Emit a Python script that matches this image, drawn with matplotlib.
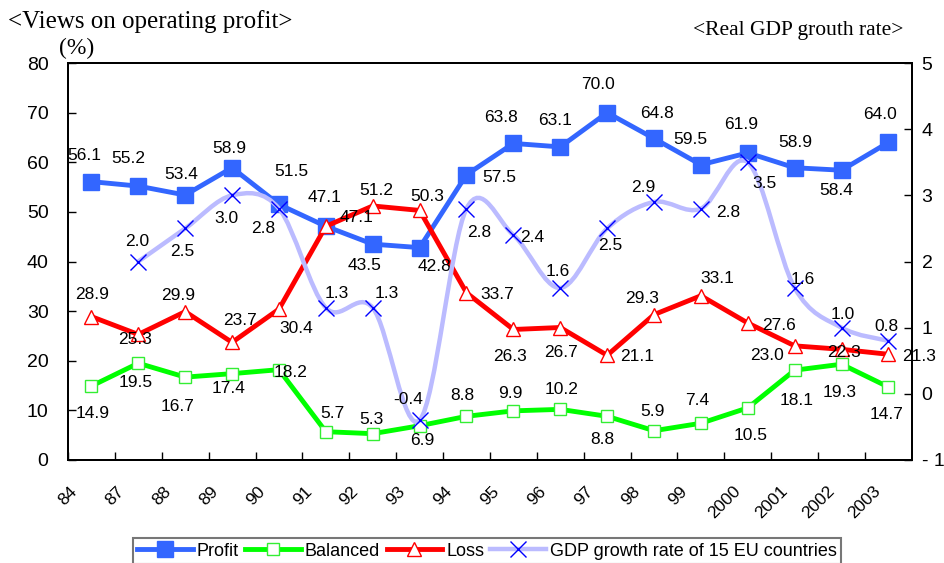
import matplotlib.pyplot as plt
from matplotlib.path import Path
from matplotlib.patches import PathPatch
from matplotlib.lines import Line2D

plt.rcParams['font.family'] = ['Liberation Sans', 'DejaVu Sans']

# --- data ---
years = ["84", "87", "88", "89", "90", "91", "92", "93", "94", "95", "96",
         "97", "98", "99", "2000", "2001", "2002", "2003"]
profit = [56.1, 55.2, 53.4, 58.9, 51.5, 47.1, 43.5, 42.8, 57.5, 63.8, 63.1,
          70.0, 64.8, 59.5, 61.9, 58.9, 58.4, 64.0]
balanced = [14.9, 19.5, 16.7, 17.4, 18.2, 5.7, 5.3, 6.9, 8.8, 9.9, 10.2,
            8.8, 5.9, 7.4, 10.5, 18.1, 19.3, 14.7]
loss = [28.9, 25.3, 29.9, 23.7, 30.4, 47.1, 51.2, 50.3, 33.7, 26.3, 26.7,
        21.1, 29.3, 33.1, 27.6, 23.0, 22.3, 21.3]
# GDP starts at 87
gdp_years = years[1:]
gdp = [2.0, 2.5, 3.0, 2.8, 1.3, 1.3, -0.4, 2.8, 2.4, 1.6, 2.5, 2.9, 2.8,
       3.5, 1.6, 1.0, 0.8]

# label offsets in pixels (dx, dy up), placed by hand like the original
profit_off = [(-7, 26), (-10, 28), (-4, 21), (-3, 19), (12, 33), (-1, 29),
              (-8, -21), (15, -19), (33, -3), (-12, 26), (-5, 26), (-9, 28),
              (3, 25), (-11, 25), (-7, 28), (1, 25), (-5, -20), (-8, 28)]
loss_off = [(1, 22), (-3, -5), (-7, 16), (8, 22), (17, -19), (31, 9),
            (4, 15), (8, 14), (31, -2), (-3, -27), (1, -25), (30, -1),
            (-12, 16), (16, 17), (31, -2), (-28, -10), (2, -3), (31, -2)]
bal_off = [(1, -27), (-3, -19), (-8, -29), (-4, -15), (12, -3), (7, 18),
           (-1, 14), (3, -15), (-4, 21), (-3, 17), (1, 20), (-5, -23),
           (-2, 19), (-4, 23), (3, -28), (2, -30), (-2, -28), (-2, -27)]
gdp_off = [(-1, 20), (-3, -23), (-6, -23), (-16, -20), (11, 14), (14, 14),
           (-11, 21), (13, -24), (19, -2), (-3, 16), (3, -17), (-11, 14),
           (27, -4), (17, -21), (8, 8), (1, 13), (-2, 14)]

c_profit = "#3366FF"
c_bal = "#00FF00"
c_loss = "#FF0000"
c_gdp = "#BBBBFF"
c_x = "#0000FF"

fig = plt.figure(figsize=(9.44, 5.63), dpi=100)
ax = fig.add_axes([0.072, 0.183, 0.894, 0.705])
ax2 = ax.twinx()

x = [i + 0.5 for i in range(len(years))]
xg = [i + 1.5 for i in range(len(gdp))]

ax.plot(x, profit, color=c_profit, lw=3.5, marker="s", ms=11.5,
        mfc=c_profit, mec=c_profit, zorder=3)
ax.plot(x, balanced, color=c_bal, lw=3.5, marker="s", ms=9,
        mfc="white", mec="#33EE33", mew=1, zorder=3)
ax.plot(x, loss, color=c_loss, lw=3.5, marker="^", ms=10,
        mfc="white", mec=c_loss, mew=1, zorder=4)

# smoothed GDP line (Bezier through the points, like a spreadsheet "smooth line")
verts = [(xg[0], gdp[0])]
codes = [Path.MOVETO]
n = len(gdp)
for i in range(n - 1):
    p0 = (xg[max(i - 1, 0)], gdp[max(i - 1, 0)])
    p1 = (xg[i], gdp[i])
    p2 = (xg[i + 1], gdp[i + 1])
    p3 = (xg[min(i + 2, n - 1)], gdp[min(i + 2, n - 1)])
    c1 = (p1[0] + (p2[0] - p0[0]) / 6, p1[1] + (p2[1] - p0[1]) / 6)
    c2 = (p2[0] - (p3[0] - p1[0]) / 6, p2[1] - (p3[1] - p1[1]) / 6)
    verts += [c1, c2, p2]
    codes += [Path.CURVE4] * 3
ax2.add_patch(PathPatch(Path(verts, codes), fc="none", ec=c_gdp, lw=3.2,
                        capstyle="round", zorder=2))
ax2.plot(xg, gdp, ls="none", marker="x", ms=11, mec=c_x, mew=1, zorder=3)

lab_kw = dict(textcoords="offset pixels", ha="center", va="center",
              fontsize=12.5, zorder=6)
for xi, v, (dx, dy) in zip(x, profit, profit_off):
    ax.annotate(f"{v:.1f}", (xi, v), xytext=(dx, dy), **lab_kw)
for xi, v, (dx, dy) in zip(x, loss, loss_off):
    ax.annotate(f"{v:.1f}", (xi, v), xytext=(dx, dy), **lab_kw)
for xi, v, (dx, dy) in zip(x, balanced, bal_off):
    ax.annotate(f"{v:.1f}", (xi, v), xytext=(dx, dy), **lab_kw)
for xi, v, (dx, dy) in zip(xg, gdp, gdp_off):
    ax2.annotate(f"{v:.1f}", (xi, v), xytext=(dx, dy), **lab_kw)

ax.set_xlim(0, len(years))
ax.set_ylim(0, 80)
ax2.set_ylim(-1, 5)
ax.set_xticks(range(len(years)))
ax.set_xticklabels(years, rotation=45, ha="center", fontsize=12.5)
ax.set_yticks(range(0, 81, 10))
ax2.set_yticks(range(-1, 6))
ax2.set_yticklabels(["- 1"] + [str(v) for v in range(0, 6)])
ax.tick_params(axis="y", direction="in", length=6, width=1, pad=14, labelsize=14)
ax.tick_params(axis="x", direction="in", length=6, width=1, pad=17)
ax2.tick_params(axis="y", direction="in", length=6, width=1, pad=7, labelsize=14)
for a in (ax, ax2):
    for s in a.spines.values():
        s.set_linewidth(1.4)

fig.text(8 / 944, 1 - 22 / 563, "<Views on operating profit>", ha="left",
         va="center", fontsize=18, family="Liberation Serif")
fig.text(77 / 944, 1 - 48 / 563, "(%)", ha="center", va="center",
         fontsize=17, family="Liberation Serif")
fig.text(798 / 944, 1 - 31 / 563, "<Real GDP grouth rate>", ha="center",
         va="center", fontsize=15.5, family="Liberation Serif")

handles = [
    Line2D([], [], color=c_profit, lw=3.5, marker="s", ms=11, mfc=c_profit, mec=c_profit),
    Line2D([], [], color=c_bal, lw=3.5, marker="s", ms=9, mfc="white", mec="#33EE33"),
    Line2D([], [], color=c_loss, lw=3.5, marker="^", ms=10, mfc="white", mec=c_loss),
    Line2D([], [], color=c_gdp, lw=3.2, marker="x", ms=11, mec=c_x),
]
leg = fig.legend(handles, ["Profit", "Balanced", "Loss",
                           "GDP growth rate of 15 EU countries"],
                 loc="upper center", bbox_to_anchor=(0.516, 1 - 538 / 563),
                 ncol=4, fontsize=13, frameon=True, fancybox=False,
                 handlelength=3.1, handletextpad=0.2, columnspacing=0.35,
                 borderpad=0.25, borderaxespad=0)
leg.get_frame().set_edgecolor("#555555")
leg.get_frame().set_linewidth(1.5)

fig.savefig("out.png", dpi=100)
